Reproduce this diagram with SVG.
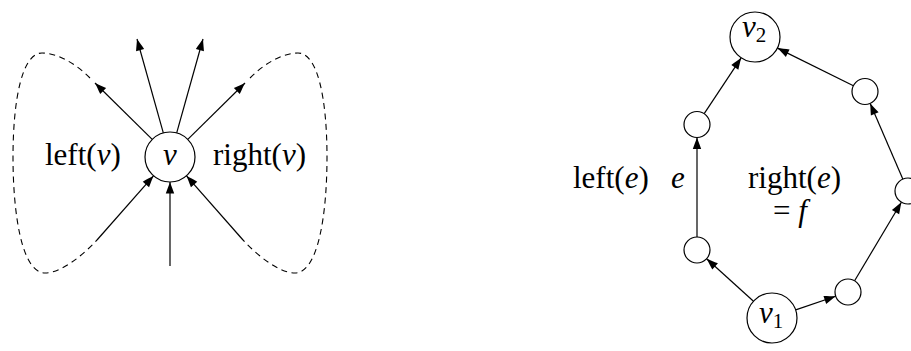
<svg xmlns="http://www.w3.org/2000/svg" width="911" height="351" viewBox="0 0 911 351">
<style>
.ln{stroke:#000;stroke-width:1.2;fill:none}
.ar{marker-end:url(#ah)}
.dash{stroke:#000;stroke-width:1.1;fill:none;stroke-dasharray:6 4.5}
.nd{fill:#fff;stroke:#000;stroke-width:1.2}
.tx{font-family:'Liberation Serif','DejaVu Serif',serif;font-size:31px;fill:#000}
.it{font-style:italic}
.sub{font-size:21px}
</style>
<defs>
<marker id="ah" markerUnits="userSpaceOnUse" markerWidth="14" markerHeight="10" viewBox="-12 -5 13 10" refX="0" refY="0" orient="auto">
<path d="M0,0 C-3.5,-1.2 -7.5,-2.8 -11.5,-4.2 L-11.5,4.2 C-7.5,2.8 -3.5,1.2 0,0 Z" fill="#000"/>
</marker>
</defs>
<g id="connectors">
<line class="ln ar" x1="152.2" y1="139.4" x2="95" y2="83"/>
<line class="ln ar" x1="163.3" y1="132.9" x2="137" y2="39"/>
<line class="ln ar" x1="176.7" y1="132.9" x2="203" y2="39"/>
<line class="ln ar" x1="187.8" y1="139.4" x2="245" y2="83"/>
<line class="ln ar" x1="97" y1="240" x2="153.5" y2="175.8"/>
<line class="ln ar" x1="170" y1="266" x2="170" y2="182"/>
<line class="ln ar" x1="243" y1="240" x2="186.5" y2="175.8"/>
<path class="dash" d="M90,78 C76,64 58,53 42,53 C22,53 13,100 13,157 C13,215 22,273 45,273 C61,273 82,256 97,240"/>
<path class="dash" d="M250,78 C264,64 282,53 298,53 C318,53 327,100 327,157 C327,215 318,273 295,273 C279,273 258,256 243,240"/>
<line class="ln ar" x1="753.5" y1="301.2" x2="706.6" y2="258.7"/>
<line class="ln ar" x1="697" y1="237" x2="697" y2="137.5"/>
<line class="ln ar" x1="704.2" y1="113.7" x2="741.2" y2="57.8"/>
<line class="ln ar" x1="795.7" y1="309.9" x2="835.7" y2="296.2"/>
<line class="ln ar" x1="854.6" y1="280.8" x2="901.4" y2="202.2"/>
<line class="ln ar" x1="902.8" y1="179.1" x2="870.2" y2="103.4"/>
<line class="ln ar" x1="853.4" y1="85.7" x2="777.4" y2="48.1"/>
</g>
<g id="v">
<circle class="nd" cx="170" cy="157" r="25"/>
<text class="tx it" x="170" y="165" text-anchor="middle">v</text>
</g>
<g id="left-v"><text class="tx" x="45" y="165">left(<tspan class="it">v</tspan>)</text></g>
<g id="right-v"><text class="tx" x="213" y="165">right(<tspan class="it">v</tspan>)</text></g>
<g id="v2">
<circle class="nd" cx="755" cy="37" r="25"/>
<text class="tx" x="742" y="37"><tspan class="it">v</tspan><tspan class="sub" dy="5">2</tspan></text>
</g>
<g id="v1">
<circle class="nd" cx="772" cy="318" r="25"/>
<text class="tx" x="759" y="323"><tspan class="it">v</tspan><tspan class="sub" dy="5">1</tspan></text>
</g>
<g id="a"><circle class="nd" cx="697" cy="250" r="13"/></g>
<g id="b"><circle class="nd" cx="697" cy="124.5" r="13"/></g>
<g id="c"><circle class="nd" cx="848" cy="292" r="13"/></g>
<g id="d"><circle class="nd" cx="908" cy="191" r="13"/></g>
<g id="e"><circle class="nd" cx="865" cy="91.5" r="13"/></g>
<g id="labels-e">
<text class="tx" x="573" y="188">left(<tspan class="it">e</tspan>)</text>
<text class="tx it" x="671" y="188">e</text>
<text class="tx" x="748" y="188">right(<tspan class="it">e</tspan>)</text>
<text class="tx" x="773" y="221">= <tspan class="it">f</tspan></text>
</g>
</svg>
